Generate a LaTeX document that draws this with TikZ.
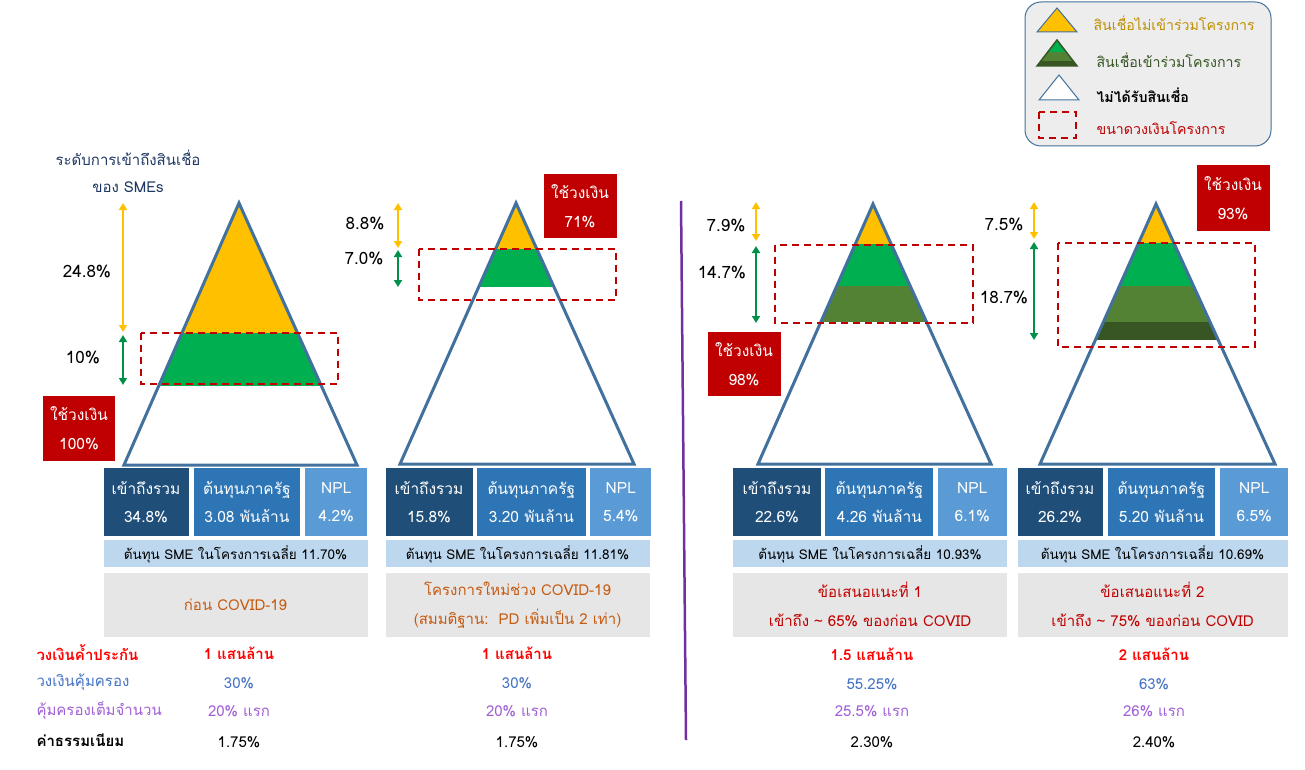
\documentclass[tikz,border=0pt]{standalone}
\usepackage{fontspec}
\newfontfamily\thaifont[Script=Thai]{Loma}
\usetikzlibrary{positioning, arrows.meta}

\definecolor{pyrblue}{HTML}{41719C}
\definecolor{gold}{HTML}{FFC000}
\definecolor{brgreen}{HTML}{00B050}
\definecolor{olive}{HTML}{548235}
\definecolor{dkgreen}{HTML}{375623}
\definecolor{arrgreen}{HTML}{00904A}
\definecolor{projred}{HTML}{C00000}
\definecolor{accblue}{HTML}{1F4E79}
\definecolor{costblue}{HTML}{2E75B6}
\definecolor{nplblue}{HTML}{5B9BD5}
\definecolor{avgblue}{HTML}{BDD7EE}
\definecolor{casegray}{HTML}{E7E6E6}
\definecolor{caseorange}{HTML}{C55A11}
\definecolor{navy}{HTML}{1F3864}
\definecolor{legtext}{HTML}{BF9000}
\definecolor{legfill}{HTML}{EDEDED}
\definecolor{covblue}{HTML}{4472C4}
\definecolor{fullpurple}{HTML}{A05FD5}
\definecolor{divpurple}{HTML}{7030A0}

\begin{document}
\begin{tikzpicture}[
    x=1pt, y=-1pt,
    % GLOBAL CFG
    font=\thaifont\fontsize{15}{18}\selectfont,
    >={Triangle[width=8pt,length=7pt]},
    % Styles
    pyr/.style={% Outline of a pyramid
        draw=pyrblue,
        line width=3pt,
        line join=miter,
        },
    project/.style={% Dashed frame for the project size
        draw=projred,
        line width=2pt,
        dash pattern=on 7pt off 5pt,
        },
    yarr/.style={% Arrow for loans outside the project
        <->,
        draw=gold,
        line width=2.2pt,
        },
    garr/.style={% Arrow for loans inside the project
        <->,
        draw=arrgreen,
        line width=2.2pt,
        },
    pct/.style={% Percent beside the arrows
        font=\thaifont\fontsize{17}{20}\selectfont,
        },
    usebox/.style={% Red box with the used amount
        rectangle,
        fill=projred,
        text=white,
        align=center,
        inner sep=0pt,
        font=\thaifont\fontsize{15.5}{29}\selectfont,
        },
    cell/.style={% Blue boxes under the pyramids
        rectangle,
        text=white,
        align=center,
        inner sep=0pt,
        minimum height=68pt,
        font=\thaifont\fontsize{15.5}{28}\selectfont,
        },
    avg/.style={% Light blue bar
        rectangle,
        fill=avgblue,
        inner sep=0pt,
        minimum height=27pt,
        font=\thaifont\fontsize{13.5}{16}\selectfont,
        },
    case/.style={% Gray box naming the case
        rectangle,
        fill=casegray,
        align=center,
        inner sep=0pt,
        minimum height=64pt,
        font=\thaifont\fontsize{15}{29}\selectfont,
        },
    legtxt/.style={% Texts of the legend
        anchor=west,
        font=\thaifont\fontsize{14.2}{17}\selectfont,
        },
    ]

\useasboundingbox (0,0) rectangle (1305,770);

    % Draw the legend
    \node [rectangle, rounded corners=16pt, draw=pyrblue, fill=legfill, line width=1pt,
        minimum width=246pt, minimum height=144pt] (legend) at (1148,74) {};
    \fill [gold, draw=pyrblue, line width=1pt] (1057,8) -- (1037,32) -- (1077,32) -- cycle;
    \begin{scope}
        \clip (1057,40) -- (1037,66) -- (1077,66) -- cycle;
        \fill [olive] (1030,40) rectangle (1085,66);
        \fill [brgreen] (1030,40) rectangle (1085,52);
        \fill [dkgreen] (1030,61) rectangle (1085,66);
    \end{scope}
    \draw [dkgreen, line width=1.5pt] (1057,40) -- (1037,66) -- (1077,66) -- cycle;
    \draw [pyrblue, fill=white, line width=1pt] (1059,75) -- (1039,100) -- (1079,100) -- cycle;
    \draw [project] (1039,112) rectangle (1076,138);
    \node [legtxt, text=legtext] (leg1) at (1090,23) {สินเชื่อไม่เข้าร่วมโครงการ};
    \node [legtxt, text=dkgreen] (leg2) at (1093,60) {สินเชื่อเข้าร่วมโครงการ};
    \node [legtxt, font=\thaifont\bfseries\fontsize{14.2}{17}\selectfont] (leg3) at (1093,95) {ไม่ได้รับสินเชื่อ};
    \node [legtxt, text=projred] (leg4) at (1093,128) {ขนาดวงเงินโครงการ};

    % Draw the title
    \node [text=navy] (title) at (128,158) {ระดับการเข้าถึงสินเชื่อ};
    \node [text=navy] (title2) at (128,187) {ของ SMEs};

    % Pyramid 1: before COVID-19
    \coordinate (t1) at (239,203);
    \coordinate (l1) at (124,465);
    \coordinate (r1) at (357,465);
    \begin{scope}
        \clip (t1) -- (l1) -- (r1) -- cycle;
        \fill [gold] (100,200) rectangle (380,333);
        \fill [brgreen] (100,333) rectangle (380,386);
    \end{scope}
    \draw [pyr] (t1) -- (l1) -- (r1) -- cycle;
    \draw [project] (141,333) rectangle (338,384);

    % Pyramid 2: new project
    \coordinate (t2) at (516,203);
    \coordinate (l2) at (400,464);
    \coordinate (r2) at (634,464);
    \begin{scope}
        \clip (t2) -- (l2) -- (r2) -- cycle;
        \fill [gold] (380,200) rectangle (660,249);
        \fill [brgreen] (380,249) rectangle (660,287);
    \end{scope}
    \draw [pyr] (t2) -- (l2) -- (r2) -- cycle;
    \draw [project] (419,249) rectangle (616,300);

    % Pyramid 3: proposal 1
    \coordinate (t3) at (873,204);
    \coordinate (l3) at (758,464);
    \coordinate (r3) at (991,464);
    \begin{scope}
        \clip (t3) -- (l3) -- (r3) -- cycle;
        \fill [gold] (740,200) rectangle (1010,244);
        \fill [brgreen] (740,244) rectangle (1010,286);
        \fill [olive] (740,286) rectangle (1010,322);
    \end{scope}
    \draw [pyr] (t3) -- (l3) -- (r3) -- cycle;
    \draw [project] (775,245) rectangle (973,323);

    % Pyramid 4: proposal 2
    \coordinate (t4) at (1156,204);
    \coordinate (l4) at (1040,464);
    \coordinate (r4) at (1275,464);
    \begin{scope}
        \clip (t4) -- (l4) -- (r4) -- cycle;
        \fill [gold] (1020,200) rectangle (1290,243);
        \fill [brgreen] (1020,243) rectangle (1290,286);
        \fill [olive] (1020,286) rectangle (1290,322);
        \fill [dkgreen] (1020,322) rectangle (1290,340);
    \end{scope}
    \draw [pyr] (t4) -- (l4) -- (r4) -- cycle;
    \draw [project] (1058,243) rectangle (1255,347);

    % Draw arrows named as basis ya#, yb#, ga#, gb#
    \coordinate (ya1) at (123,203);  \coordinate (yb1) at (123,332);
    \coordinate (ga1) at (123,335);  \coordinate (gb1) at (123,385);
    \coordinate (ya2) at (398,203);  \coordinate (yb2) at (398,248);
    \coordinate (ga2) at (398,250);  \coordinate (gb2) at (398,287);
    \coordinate (ya3) at (756,202);  \coordinate (yb3) at (756,241);
    \coordinate (ga3) at (756,246);  \coordinate (gb3) at (756,323);
    \coordinate (ya4) at (1034,202); \coordinate (yb4) at (1034,239);
    \coordinate (ga4) at (1034,242); \coordinate (gb4) at (1034,340);
    \draw [yarr] (ya1) -- (yb1);
    \draw [garr] (ga1) -- (gb1);
    \draw [yarr] (ya2) -- (yb2);
    \draw [garr] (ga2) -- (gb2);
    \draw [yarr] (ya3) -- (yb3);
    \draw [garr] (ga3) -- (gb3);
    \draw [yarr] (ya4) -- (yb4);
    \draw [garr] (ga4) -- (gb4);

    % Percent labels
    \node [pct] (py1) at (87,272) {24.8\%};
    \node [pct] (pg1) at (83,358) {10\%};
    \node [pct] (py2) at (365,224) {8.8\%};
    \node [pct] (pg2) at (364,259) {7.0\%};
    \node [pct] (py3) at (726,226) {7.9\%};
    \node [pct] (pg3) at (722,273) {14.7\%};
    \node [pct] (py4) at (1004,225) {7.5\%};
    \node [pct] (pg4) at (1004,298) {18.7\%};

    % Red boxes named use#
    \node [usebox, minimum width=72pt, minimum height=65pt] (use1) at (79,428) {ใช้วงเงิน\\100\%};
    \node [usebox, minimum width=73pt, minimum height=64pt] (use2) at (580,206) {ใช้วงเงิน\\71\%};
    \node [usebox, minimum width=73pt, minimum height=64pt] (use3) at (744,364) {ใช้วงเงิน\\98\%};
    \node [usebox, minimum width=73pt, minimum height=65pt] (use4) at (1233,198) {ใช้วงเงิน\\93\%};

    % Boxes under pyramid 1
    \node [cell, fill=accblue, minimum width=85pt] (acc1) at (146,502) {เข้าถึงรวม\\34.8\%};
    \node [cell, fill=costblue, minimum width=106pt, right=5pt of acc1] (cost1) {ต้นทุนภาครัฐ\\3.08 พันล้าน};
    \node [cell, fill=nplblue, minimum width=62pt, right=5pt of cost1] (npl1) {NPL\\4.2\%};
    \node [avg, minimum width=264pt, below=4pt of acc1.south west, anchor=north west] (avg1) {ต้นทุน SME ในโครงการเฉลี่ย 11.70\%};
    \node [case, minimum width=264pt, below=5pt of avg1, text=caseorange] (case1) {ก่อน COVID-19};

    % Boxes under pyramid 2
    \node [cell, fill=accblue, minimum width=87pt] (acc2) at (429,502) {เข้าถึงรวม\\15.8\%};
    \node [cell, fill=costblue, minimum width=109pt, right=4pt of acc2] (cost2) {ต้นทุนภาครัฐ\\3.20 พันล้าน};
    \node [cell, fill=nplblue, minimum width=61pt, right=4pt of cost2] (npl2) {NPL\\5.4\%};
    \node [avg, minimum width=264pt, below=4pt of acc2.south west, anchor=north west] (avg2) {ต้นทุน SME ในโครงการเฉลี่ย 11.81\%};
    \node [case, minimum width=264pt, below=5pt of avg2, text=caseorange] (case2) {โครงการใหม่ช่วง COVID-19\\(สมมติฐาน:\ \ PD เพิ่มเป็น 2 เท่า)};

    % Boxes under pyramid 3
    \node [cell, fill=accblue, minimum width=88pt] (acc3) at (777,502) {เข้าถึงรวม\\22.6\%};
    \node [cell, fill=costblue, minimum width=108pt, right=4pt of acc3] (cost3) {ต้นทุนภาครัฐ\\4.26 พันล้าน};
    \node [cell, fill=nplblue, minimum width=69pt, right=4pt of cost3] (npl3) {NPL\\6.1\%};
    \node [avg, minimum width=274pt, below=4pt of acc3.south west, anchor=north west] (avg3) {ต้นทุน SME ในโครงการเฉลี่ย 10.93\%};
    \node [case, minimum width=274pt, below=5pt of avg3, text=projred] (case3) {ข้อเสนอแนะที่ 1\\เข้าถึง \textasciitilde{} 65\% ของก่อน COVID};

    % Boxes under pyramid 4
    \node [cell, fill=accblue, minimum width=85pt] (acc4) at (1060,502) {เข้าถึงรวม\\26.2\%};
    \node [cell, fill=costblue, minimum width=107pt, right=5pt of acc4] (cost4) {ต้นทุนภาครัฐ\\5.20 พันล้าน};
    \node [cell, fill=nplblue, minimum width=68pt, right=5pt of cost4] (npl4) {NPL\\6.5\%};
    \node [avg, minimum width=270pt, below=4pt of acc4.south west, anchor=north west] (avg4) {ต้นทุน SME ในโครงการเฉลี่ย 10.69\%};
    \node [case, minimum width=270pt, below=5pt of avg4, text=projred] (case4) {ข้อเสนอแนะที่ 2\\เข้าถึง \textasciitilde{} 75\% ของก่อน COVID};

    % Divider between old and proposed
    \coordinate (divtop) at (681,201);
    \coordinate (divbot) at (686,740);
    \draw [divpurple, line width=2.5pt] (divtop) -- (divbot);

    % Row labels named as basis lab#
    \node [anchor=west, text=red, font=\thaifont\bfseries\fontsize{15}{18}\selectfont] (lab1) at (33,653) {วงเงินค้ำประกัน};
    \node [anchor=west, text=covblue] (lab2) at (33,682) {วงเงินคุ้มครอง};
    \node [anchor=west, text=fullpurple] (lab3) at (33,711) {คุ้มครองเต็มจำนวน};
    \node [anchor=west, font=\thaifont\bfseries\fontsize{15}{18}\selectfont] (lab4) at (33,740) {ค่าธรรมเนียม};

    % Values, column 1
    \node [text=red, font=\thaifont\bfseries\fontsize{15}{18}\selectfont] (v11) at (239,653) {1 แสนล้าน};
    \node [text=covblue] (v12) at (239,683) {30\%};
    \node [text=fullpurple] (v13) at (239,711) {20\% แรก};
    \node [] (v14) at (239,742) {1.75\%};
    % Values, column 2
    \node [text=red, font=\thaifont\bfseries\fontsize{15}{18}\selectfont] (v21) at (517,653) {1 แสนล้าน};
    \node [text=covblue] (v22) at (517,683) {30\%};
    \node [text=fullpurple] (v23) at (517,711) {20\% แรก};
    \node [] (v24) at (517,742) {1.75\%};
    % Values, column 3
    \node [text=red, font=\thaifont\bfseries\fontsize{15}{18}\selectfont] (v31) at (872,654) {1.5 แสนล้าน};
    \node [text=covblue] (v32) at (872,684) {55.25\%};
    \node [text=fullpurple] (v33) at (872,711) {25.5\% แรก};
    \node [] (v34) at (872,742) {2.30\%};
    % Values, column 4
    \node [text=red, font=\thaifont\bfseries\fontsize{15}{18}\selectfont] (v41) at (1154,654) {2 แสนล้าน};
    \node [text=covblue] (v42) at (1154,684) {63\%};
    \node [text=fullpurple] (v43) at (1154,711) {26\% แรก};
    \node [] (v44) at (1154,742) {2.40\%};

\end{tikzpicture}
\end{document}
